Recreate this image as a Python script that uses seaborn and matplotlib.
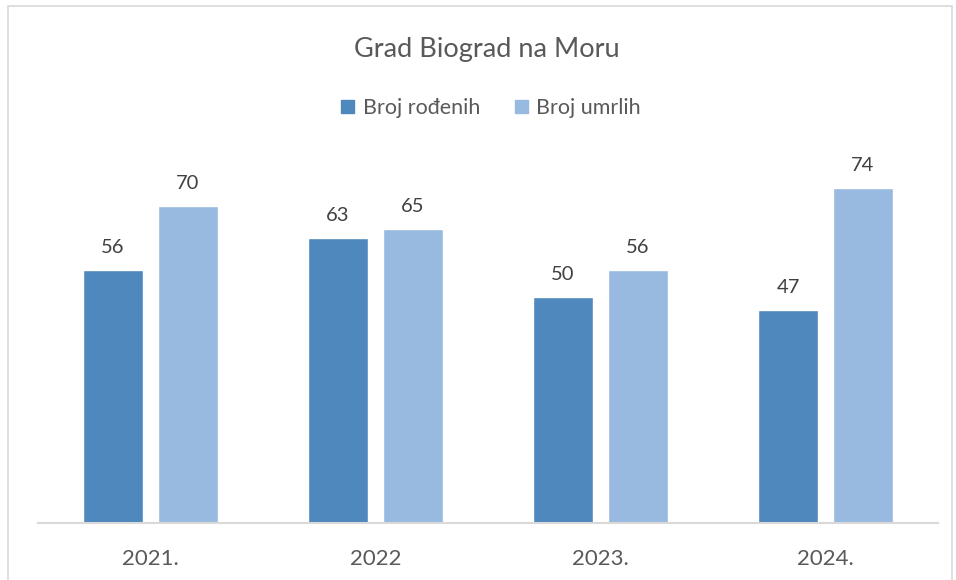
import numpy as np
import pandas as pd
import seaborn as sns
import matplotlib.pyplot as plt
from matplotlib.patches import Rectangle

# === Data ===
years   = ['2021.', '2022', '2023.', '2024.']
rodeni  = [56, 63, 50, 47]
umrli   = [70, 65, 56, 74]
series  = ['Broj rođenih', 'Broj umrlih']
colors  = ['#4F88BD', '#98B9E0']

df = pd.DataFrame({
    'year':  years * 2,
    'value': rodeni + umrli,
    'serie': [series[0]] * len(years) + [series[1]] * len(years),
})

sns.set_theme(style='white')
plt.rcParams['font.family'] = ['Lato', 'DejaVu Sans']
text_col = '#595959'

fig = plt.figure(figsize=(9.56, 5.8), dpi=100)
ax = fig.add_axes([38 / 956, 57 / 580, 900 / 956, 362 / 580])

sns.barplot(data=df, x='year', y='value', hue='serie', palette=colors,
            width=0.667, gap=0.2, ax=ax, legend=False, saturation=1)

for cont in ax.containers:
    ax.bar_label(cont, padding=10, fontsize=14.5, color='#404040')

ax.set_ylim(0, 80)
ax.set_xlim(-0.5, 3.5)
ax.set_yticks([])
ax.set_xlabel('')
ax.set_ylabel('')
for s in ['top', 'right', 'left']:
    ax.spines[s].set_visible(False)
ax.spines['bottom'].set_color('#D9D9D9')
ax.spines['bottom'].set_linewidth(1.5)
ax.tick_params(axis='x', length=0, pad=19, labelsize=16, labelcolor=text_col)

# title and legend
fig.text(487 / 956, 1 - 50 / 580, 'Grad Biograd na Moru', ha='center', va='center',
         fontsize=19.5, color=text_col)
handles = [Rectangle((0, 0), 1, 1, color=c) for c in colors]
fig.legend(handles, series, loc='center', bbox_to_anchor=(491 / 956, 1 - 108 / 580),
           ncol=2, frameon=False, fontsize=15.5, labelcolor=text_col,
           handlelength=0.6, handleheight=0.6, handletextpad=0.4, columnspacing=1.6)

# chart border
fig.patches.append(Rectangle((8 / 956, -0.01), 944 / 956, 1.0, transform=fig.transFigure,
                             fill=False, edgecolor='#D9D9D9', linewidth=1.2))

plt.savefig('out.png', dpi=100)
